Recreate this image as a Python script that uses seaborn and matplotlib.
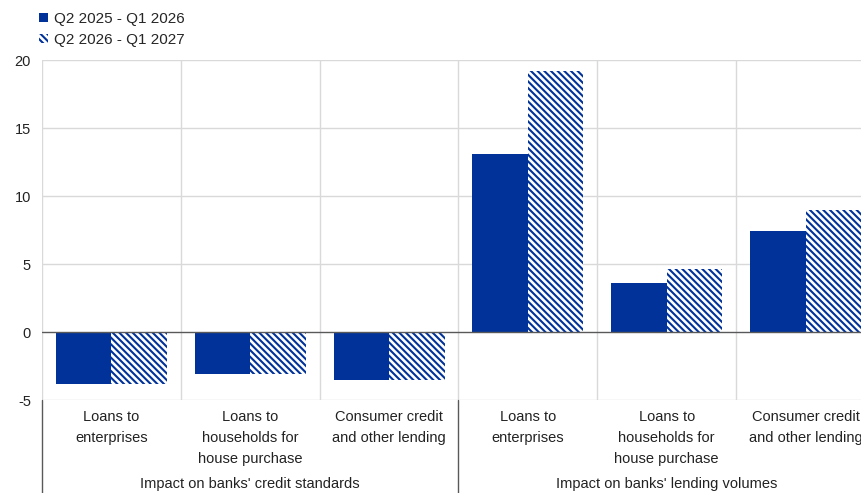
import matplotlib
matplotlib.use("Agg")
import matplotlib.pyplot as plt
import seaborn as sns
import pandas as pd
from matplotlib.patches import Patch
from matplotlib.lines import Line2D

categories = ["Loans to\nenterprises", "Loans to\nhouseholds for\nhouse purchase", "Consumer credit\nand other lending"]
groups = ["Impact on banks' credit standards", "Impact on banks' lending volumes"]
series = ["Q2 2025 - Q1 2026", "Q2 2026 - Q1 2027"]
values_s1 = [-3.8, -3.1, -3.5, 13.1, 3.6, 7.4]
values_s2 = [-3.8, -3.1, -3.5, 19.2, 4.6, 9.0]
yticks = [-5, 0, 5, 10, 15, 20]

BLUE = "#003299"
HATCH = "\\" * 5
FS = 10.5

sns.set_theme(style="white")
plt.rcParams["font.family"] = ["Liberation Sans", "DejaVu Sans"]
plt.rcParams["hatch.linewidth"] = 1.5

xlabels = [c for g in groups for c in categories]
keys = [f"{i}" for i in range(6)]
df = pd.DataFrame({
    "cat": keys * 2,
    "series": [series[0]] * 6 + [series[1]] * 6,
    "value": values_s1 + values_s2,
})

fig = plt.figure(figsize=(8.62, 4.93), dpi=100)
ax = fig.add_axes([42 / 862, 1 - 400 / 493, (875 - 42) / 862, (400 - 60) / 493])

sns.barplot(data=df, x="cat", y="value", hue="series", order=keys, hue_order=series,
            palette=[BLUE, BLUE], width=0.8, ax=ax, legend=False, saturation=1)

for p in ax.containers[0]:
    p.set_facecolor(BLUE)
    p.set_edgecolor(BLUE)
    p.set_linewidth(0)
for p in ax.containers[1]:
    p.set_facecolor("white")
    p.set_edgecolor(BLUE)
    p.set_hatch(HATCH)
    p.set_linewidth(0)

ax.set_ylim(-5, 20)
ax.set_xlim(-0.5, 5.5)
ax.set_yticks(yticks)
ax.set_yticklabels([str(t) for t in yticks], fontsize=FS, color="#222222")
ax.tick_params(axis="y", length=0, pad=8)
ax.tick_params(axis="x", length=0, pad=7.5)
ax.set_xticks(range(6))
ax.set_xticklabels(xlabels, fontsize=FS, color="#222222", linespacing=1.6, va="top")
ax.set_xlabel("")
ax.set_ylabel("")

for s in ["top", "right", "bottom", "left"]:
    ax.spines[s].set_visible(False)

for t in yticks:
    if t == 0:
        continue
    ax.axhline(t, color="#d9d9d9", lw=1, zorder=0)
for x in [-0.5, 0.5, 1.5, 2.5, 3.5, 4.5]:
    ax.axvline(x, color="#d9d9d9", lw=1, zorder=0)
ax.axhline(0, color="#595959", lw=1, zorder=3)

# group separators and labels below axis
trans = ax.get_xaxis_transform()
for x in [-0.5, 2.5, 5.5]:
    ax.add_line(Line2D([x, x], [0, -0.29], transform=trans, color="#595959", lw=1, clip_on=False))
for i, g in enumerate(groups):
    ax.text(1 + 3 * i, -0.247, g, transform=trans, ha="center", va="center",
            fontsize=FS, color="#222222")

handles = [Patch(facecolor=BLUE, edgecolor=BLUE, lw=0),
           Patch(facecolor="white", edgecolor=BLUE, hatch=HATCH, lw=0)]
fig.legend(handles, series, loc="upper left", bbox_to_anchor=(39 / 862, 1 - 12 / 493),
           frameon=False, fontsize=11, handlelength=0.6, handleheight=0.6,
           handletextpad=0.35, labelspacing=0.45, borderaxespad=0, borderpad=0)

fig.savefig("out.png", dpi=100)
